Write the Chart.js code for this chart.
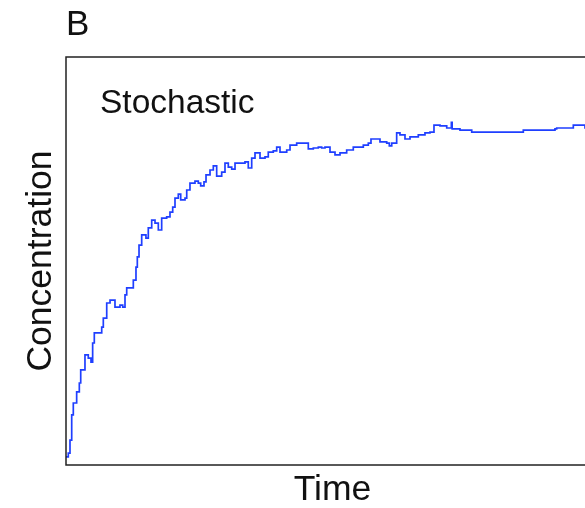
<!DOCTYPE html>
<html>
<head>
<meta charset="utf-8">
<script src="https://cdn.jsdelivr.net/npm/chart.js@4/dist/chart.umd.min.js"></script>
<style>
    html, body { margin: 0; padding: 0; background: #fff; overflow: hidden; }
    #wrap { width: 585px; height: 508px; overflow: hidden; }
</style>
</head>
<body>
<div id="wrap"><canvas id="conc-chart" width="620" height="508"></canvas></div>
<script>
// one stochastic run (time and concentration in 0-100 units)
const times = [0, 0.43, 0.75, 1.07, 1.37, 1.88, 2.0, 2.5, 2.76, 3.13, 3.56, 4.18, 4.69, 5.0, 5.31, 6.06,
    6.7, 7.0, 7.64, 8.26, 9.19, 10.13, 10.64, 11.07, 11.39, 12.33, 12.63, 13.13, 13.38, 13.7, 14.2, 15.0,
    15.44, 16.08, 16.7, 17.32, 17.95, 18.89, 19.51, 20.02, 20.45, 21.07, 21.52, 22.33, 22.65, 23.26, 24.2,
    24.82, 25.27, 25.89, 26.27, 27.02, 27.64, 28.27, 29.21, 29.83, 30.45, 31.09, 31.71, 33.58, 34.2, 34.84,
    35.46, 36.4, 37.34, 37.95, 38.89, 39.53, 40.15, 41.41, 42.03, 43.28, 44.52, 45.46, 46.4, 47.34, 47.97,
    48.59, 49.53, 50.47, 51.41, 52.66, 53.9, 54.84, 55.78, 56.72, 57.22, 58.91, 60.17, 60.66, 61.11, 62.04,
    62.66, 63.6, 64.54, 66.1, 67.35, 68.29, 69.04, 70.17, 71.43, 72.3, 72.45, 73.92, 76.12, 85.5, 85.8,
    91.74, 92.06, 94.88, 95.18, 96.43, 97.37, 100];
const concentration = [2.0, 2.9, 6.1, 12.3, 15.2, 15.2, 17.9, 20.1, 23.3, 23.3, 27.0, 26.2, 25.2, 29.9, 32.4, 32.4,
    33.8, 36.0, 39.7, 40.4, 38.7, 39.2, 38.7, 41.7, 43.4, 43.4, 45.3, 48.5, 51.0, 53.9, 56.4, 55.6,
    58.1, 60.0, 59.3, 57.6, 60.5, 60.8, 62.0, 63.2, 65.4, 66.4, 65.0, 65.4, 67.4, 69.1, 69.6,
    69.1, 68.4, 69.4, 71.1, 72.3, 73.3, 70.8, 71.8, 74.0, 73.0, 72.5, 74.0, 74.3, 72.8, 75.2,
    76.5, 75.2, 75.5, 76.7, 77.0, 77.9, 76.7, 77.2, 78.4, 78.9, 78.9, 77.5, 77.7, 77.9, 77.7,
    77.9, 76.7, 76.0, 76.5, 77.2, 77.9, 77.9, 78.4, 78.9, 79.9, 79.2, 78.9, 78.2, 78.9, 81.4,
    80.9, 79.9, 80.4, 80.9, 81.4, 81.6, 83.3, 83.1, 82.6, 84.0, 82.4, 82.1, 81.6, 81.6, 82.1,
    82.4, 82.6, 82.6, 83.3, 83.3, 82.6, 82.6];

const FONT = '"Liberation Sans", Arial, Helvetica, sans-serif';

// frame and labels, drawn relative to the chart area
const decorations = {
    id: 'decorations',
    afterDraw(chart) {
        const {ctx, chartArea: a} = chart;
        ctx.save();
        ctx.strokeStyle = '#222';
        ctx.lineWidth = 1.5;
        ctx.strokeRect(a.left, a.top, a.right - a.left, a.bottom - a.top);

        ctx.fillStyle = '#111';
        ctx.textBaseline = 'alphabetic';
        ctx.font = '35px ' + FONT;
        ctx.textAlign = 'left';
        ctx.fillText('B', a.left, 35);

        ctx.font = '33.5px ' + FONT;
        ctx.fillText('Stochastic', a.left + 34, 113);

        ctx.font = '35.5px ' + FONT;
        ctx.textAlign = 'center';
        ctx.fillText('Time', (a.left + a.right) / 2, 500);

        ctx.translate(51, (a.top + a.bottom) / 2);
        ctx.rotate(-Math.PI / 2);
        ctx.fillText('Concentration', 0, 0);
        ctx.restore();
    }
};

window.onload = () => {
    const context = document.getElementById('conc-chart').getContext('2d');
    new Chart(context, {
        type: 'line',
        data: {
            datasets: [{
                data: times.map((t, i) => ({x: t, y: concentration[i]})),
                borderColor: '#1f3fff',
                borderWidth: 1.7,
                pointRadius: 0,
                stepped: 'before',
                fill: false
            }]
        },
        options: {
            responsive: false,
            animation: false,
            layout: {padding: {left: 66, top: 57, right: 21, bottom: 43}},
            plugins: {
                legend: {display: false},
                tooltip: {enabled: false}
            },
            scales: {
                x: {type: 'linear', min: 0, max: 100, display: false},
                y: {min: 0, max: 100, display: false}
            }
        },
        plugins: [decorations]
    });
};
</script>
</body>
</html>
